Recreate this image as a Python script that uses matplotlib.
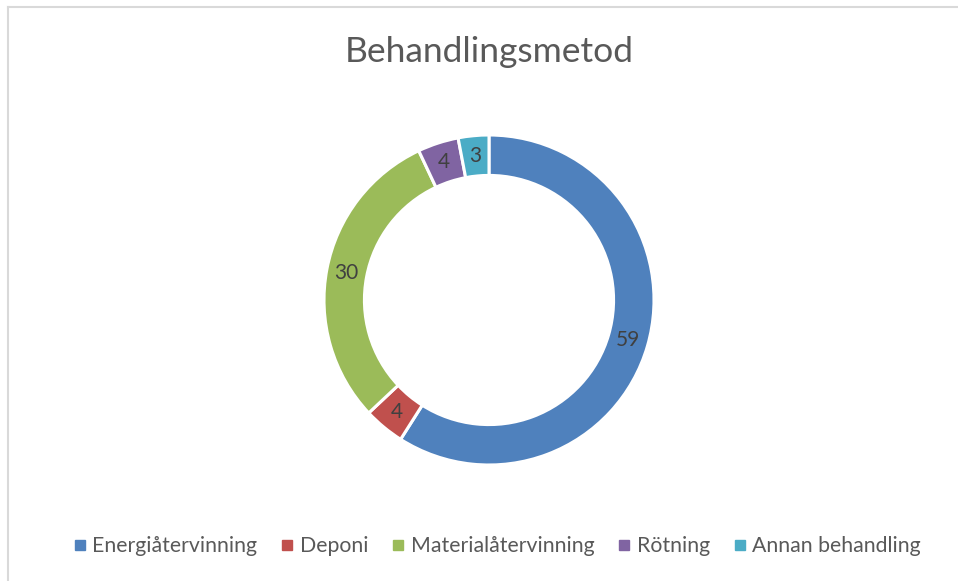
import matplotlib.pyplot as plt
from matplotlib.lines import Line2D
import numpy as np

categorias = ["Energiåtervinning", "Deponi", "Materialåtervinning", "Rötning", "Annan behandling"]
valores = [59, 4, 30, 4, 3]
colores = ["#4F81BD", "#C0504D", "#9BBB59", "#8064A2", "#4BACC6"]
titulo = "Behandlingsmetod"

W, H = 958, 581
fig = plt.figure(figsize=(W / 100, H / 100), dpi=100)
plt.rcParams['font.family'] = ['Lato', 'DejaVu Sans']

# ram (bara vänster och övre kant syns)
fig.add_artist(Line2D([8 / W, 8 / W], [0, 1 - 7 / H], color="#D9D9D9", lw=1.5))
fig.add_artist(Line2D([8 / W, 1], [1 - 7 / H, 1 - 7 / H], color="#D9D9D9", lw=1.5))

cx, cy, r = 489, 300, 165
ax = fig.add_axes([(cx - r) / W, (H - cy - r) / H, 2 * r / W, 2 * r / H])
ancho = 0.245
wedges, _ = ax.pie(valores, colors=colores, startangle=90, counterclock=False,
                   radius=1, wedgeprops=dict(width=ancho, edgecolor="white", linewidth=2.2))
ax.set_xlim(-1, 1)
ax.set_ylim(-1, 1)
ax.set_aspect("equal")

total = sum(valores)
acum = 0
for v in valores:
    mid = 90 - 360 * (acum + v / 2) / total
    acum += v
    rr = 1 - ancho / 2
    ax.text(rr * np.cos(np.radians(mid)), rr * np.sin(np.radians(mid)), str(v),
            ha="center", va="center", fontsize=15, color="#404040")

fig.text(cx / W, 1 - 52 / H, titulo, ha="center", va="center", fontsize=25.5, color="#595959")

handles = [Line2D([], [], marker="s", linestyle="", markersize=6.5, markerfacecolor=c,
                  markeredgecolor=c) for c in colores]
fig.legend(handles, categorias, loc="center", bbox_to_anchor=(495 / W, 1 - 546 / H), ncol=5,
           frameon=False, fontsize=15.3, handletextpad=0.1, columnspacing=0.9,
           handlelength=1.0, labelcolor="#595959")

fig.savefig("out.png", dpi=100)
